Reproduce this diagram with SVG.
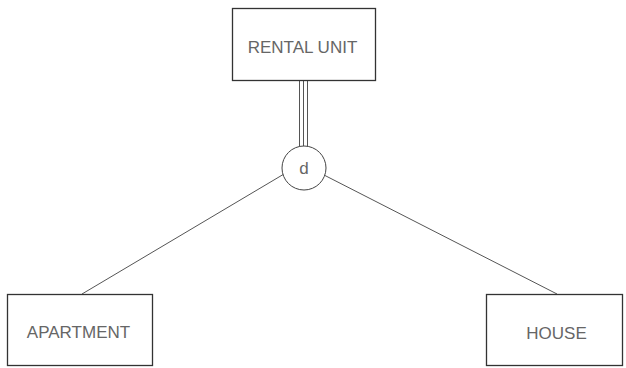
<svg xmlns="http://www.w3.org/2000/svg" width="626" height="368" viewBox="0 0 626 368">
<style>
.box{fill:#fff;stroke:#333;stroke-width:1.3}
.ln{stroke:#555;stroke-width:1;fill:none}
.t{font-family:"Liberation Sans",Arial,sans-serif;font-size:17px;fill:#666;text-anchor:middle}
</style>
<rect width="626" height="368" fill="#fff"/>
<g id="connectors">
<line class="ln" x1="299.5" y1="80" x2="299.5" y2="147"/>
<line class="ln" x1="307.5" y1="80" x2="307.5" y2="147"/>
<line class="ln" x1="303.5" y1="80" x2="303.5" y2="146"/>
<line class="ln" x1="284" y1="174" x2="82" y2="294"/>
<line class="ln" x1="324" y1="175" x2="557" y2="294"/>
</g>
<g id="rental-unit">
<rect class="box" x="232.5" y="8.5" width="143" height="72"/>
<text class="t" x="302.5" y="53">RENTAL UNIT</text>
</g>
<g id="d">
<circle cx="304" cy="168" r="22" fill="#fff" stroke="#444" stroke-width="1"/>
<text class="t" x="304" y="174">d</text>
</g>
<g id="apartment">
<rect class="box" x="7.5" y="294.5" width="145" height="71"/>
<text class="t" x="78.5" y="338">APARTMENT</text>
</g>
<g id="house">
<rect class="box" x="486.5" y="294.5" width="136" height="71"/>
<text class="t" x="556.5" y="339">HOUSE</text>
</g>
</svg>
